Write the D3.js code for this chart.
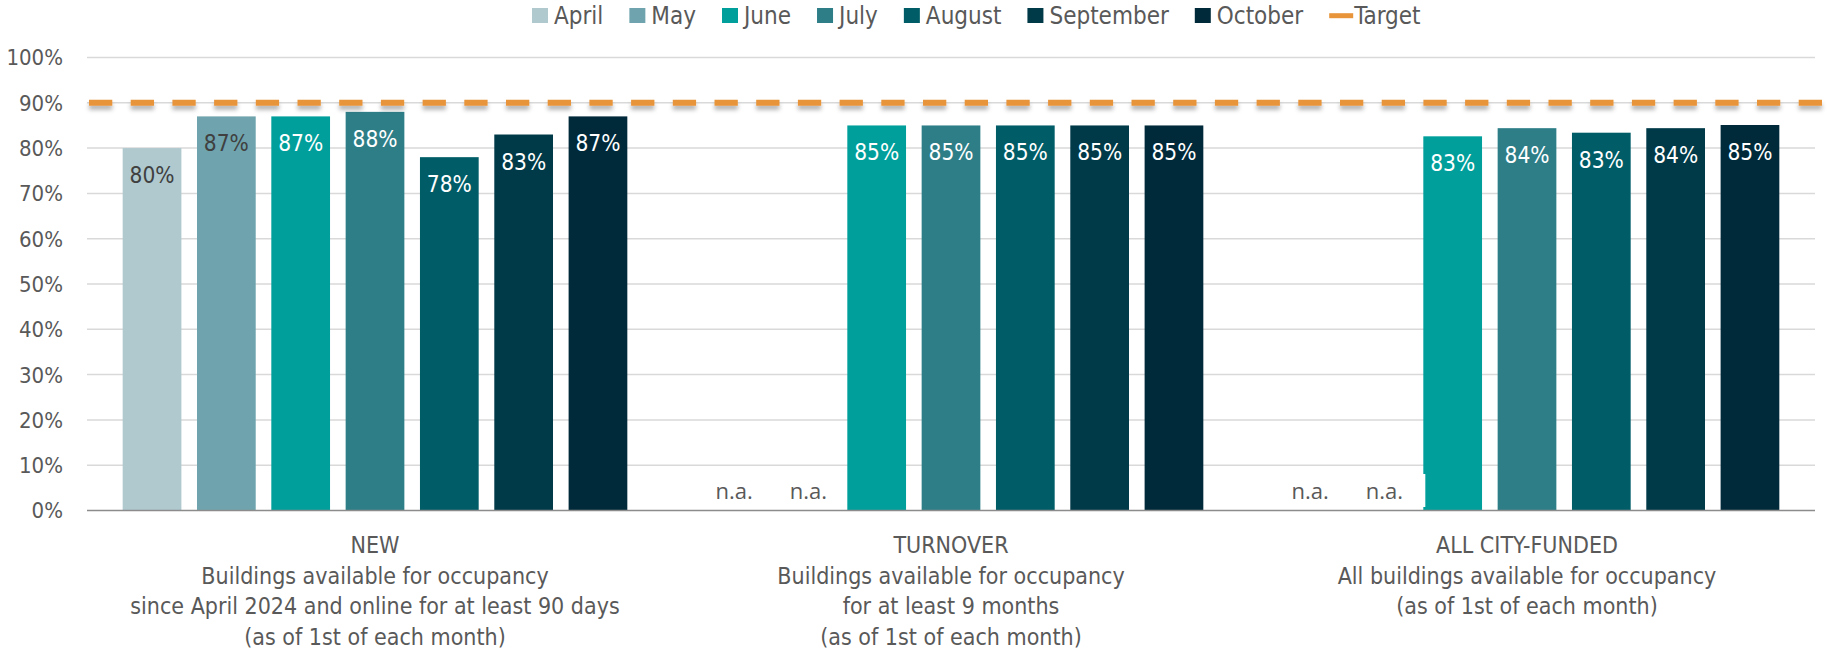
<!DOCTYPE html>
<html lang="en">
<head>
<meta charset="UTF-8">
<title>Occupancy by building group</title>
<script src="https://d3js.org/d3.v7.min.js"></script>
<style>
    body {
        margin: 0;
        background: #ffffff;
    }

    svg {
        display: block;
        font-family: "DejaVu Sans Condensed", "DejaVu Sans", sans-serif;
        font-stretch: condensed;
    }

    .grid line {
        stroke: #d9d9d9;
        stroke-width: 1.5;
    }

    .tick-label {
        fill: #595959;
        font-size: 22px;
    }

    .cat-label {
        fill: #595959;
        font-size: 23px;
    }

    .legend text {
        fill: #595959;
        font-size: 24px;
    }

    .na-label {
        font-family: "Open Sans", sans-serif;
        font-stretch: normal;
        fill: #595959;
        font-size: 22px;
    }
</style>
</head>
<body>
<svg id="chart" width="1837" height="656"></svg>
<script>
    // data
    const months = ["April", "May", "June", "July", "August", "September", "October"];
    const groups = ["NEW", "TURNOVER", "ALL CITY-FUNDED"];
    const groupNotes = [
        ["NEW", "Buildings available for occupancy", "since April 2024 and online for at least 90 days", "(as of 1st of each month)"],
        ["TURNOVER", "Buildings available for occupancy", "for at least 9 months", "(as of 1st of each month)"],
        ["ALL CITY-FUNDED", "All buildings available for occupancy", "(as of 1st of each month)"]
    ];
    const newValues = [80, 87, 87, 88, 78, 83, 87];
    const turnoverValues = [null, null, 85, 85, 85, 85, 85];
    const allFundedValues = [null, null, 82.6, 84.4, 83.4, 84.4, 85.1];
    const yTicks = [0, 10, 20, 30, 40, 50, 60, 70, 80, 90, 100];
    const targetValue = 90;

    const monthColors = ["#afc9cf", "#6fa4ae", "#009f9c", "#2e7e88", "#005d67", "#003a48", "#002a3a"];
    const darkLabelMonths = ["April", "May"];

    const seriesByGroup = [newValues, turnoverValues, allFundedValues];

    const svg = d3.select("#chart");
    const plotLeft = 87, plotRight = 1815;

    const y = d3.scaleLinear().domain([0, 100]).range([510.5, 57.5]);

    const x0 = d3.scaleBand()
        .domain(groups)
        .range([plotLeft, plotRight])
        .padding(0);

    const x1 = d3.scaleBand()
        .domain(months)
        .range([0, x0.bandwidth()])
        .paddingInner(0.21)
        .paddingOuter(0.48);

    const color = d3.scaleOrdinal().domain(months).range(monthColors);

    // shadow under the target line
    svg.append("defs")
        .append("filter")
        .attr("id", "shadow")
        .attr("filterUnits", "userSpaceOnUse")
        .attr("x", 0).attr("y", y(targetValue) - 20)
        .attr("width", 1837).attr("height", 40)
        .append("feDropShadow")
        .attr("dx", 0).attr("dy", 4)
        .attr("stdDeviation", 2)
        .attr("flood-color", "#000")
        .attr("flood-opacity", 0.3);

    // gridlines
    svg.append("g")
        .attr("class", "grid")
        .selectAll("line")
        .data(yTicks.filter(d => d > 0))
        .join("line")
        .attr("x1", plotLeft)
        .attr("x2", plotRight)
        .attr("y1", d => y(d))
        .attr("y2", d => y(d));

    // y tick labels
    svg.append("g")
        .selectAll("text")
        .data(yTicks)
        .join("text")
        .attr("class", "tick-label")
        .attr("x", 63)
        .attr("y", d => y(d))
        .attr("dy", "0.36em")
        .attr("text-anchor", "end")
        .text(d => d + "%");

    // one group per building category
    const groupG = svg.append("g")
        .selectAll("g")
        .data(groups)
        .join("g")
        .attr("transform", d => `translate(${x0(d)},0)`);

    const cellData = (g, gi) => months.map((m, mi) => ({ group: g, month: m, value: seriesByGroup[gi][mi] }));

    // bars
    groupG.selectAll("rect.bar")
        .data((g, gi) => cellData(g, gi).filter(d => d.value !== null))
        .join("rect")
        .attr("class", "bar")
        .attr("x", d => x1(d.month))
        .attr("width", x1.bandwidth())
        .attr("y", d => y(d.value))
        .attr("height", d => y(0) - y(d.value))
        .attr("fill", d => color(d.month));

    // white box behind the n.a. labels of the last group (as in the source)
    groupG.filter(g => g === "ALL CITY-FUNDED")
        .append("rect")
        .attr("x", x1("April") - 12)
        .attr("y", y(0) - 36.5)
        .attr("width", x1("June") + 2 - (x1("April") - 12))
        .attr("height", 33)
        .attr("fill", "#ffffff");

    // value labels
    groupG.selectAll("text.value")
        .data((g, gi) => cellData(g, gi).filter(d => d.value !== null))
        .join("text")
        .attr("class", "value")
        .attr("x", d => x1(d.month) + x1.bandwidth() / 2)
        .attr("y", d => y(d.value) + 35)
        .attr("text-anchor", "middle")
        .attr("font-size", 22.5)
        .attr("fill", d => darkLabelMonths.includes(d.month) ? "#404040" : "#ffffff")
        .text(d => Math.round(d.value) + "%");

    groupG.selectAll("text.na-label")
        .data((g, gi) => cellData(g, gi).filter(d => d.value === null))
        .join("text")
        .attr("class", "na-label")
        .attr("x", d => x1(d.month) + x1.bandwidth() / 2 + 6)
        .attr("y", y(0) - 12)
        .attr("text-anchor", "middle")
        .text("n.a.");

    // axis baseline
    svg.append("line")
        .attr("x1", plotLeft)
        .attr("x2", plotRight)
        .attr("y1", y(0))
        .attr("y2", y(0))
        .attr("stroke", "#8c8c8c")
        .attr("stroke-width", 1.5);

    // target line
    svg.append("line")
        .attr("x1", plotLeft + 2)
        .attr("x2", 1832)
        .attr("y1", y(targetValue))
        .attr("y2", y(targetValue))
        .attr("stroke", "#e8943a")
        .attr("stroke-width", 6)
        .attr("stroke-dasharray", "23.3 18.4")
        .attr("filter", "url(#shadow)");

    // category labels
    svg.append("g")
        .selectAll("text")
        .data(groups)
        .join("text")
        .attr("class", "cat-label")
        .attr("text-anchor", "middle")
        .attr("x", d => x0(d) + x0.bandwidth() / 2)
        .attr("y", 553)
        .selectAll("tspan")
        .data((d, i) => groupNotes[i])
        .join("tspan")
        .attr("x", function () { return d3.select(this.parentNode).attr("x"); })
        .attr("dy", (d, i) => i === 0 ? 0 : 30.7)
        .text(d => d);

    // legend
    const legend = svg.append("g").attr("class", "legend");
    let lx = 532;
    months.forEach(m => {
        legend.append("rect")
            .attr("x", lx).attr("y", 8)
            .attr("width", 16).attr("height", 15)
            .attr("fill", color(m));
        const t = legend.append("text")
            .attr("x", lx + 22).attr("y", 23.5)
            .text(m);
        lx += 22 + t.node().getComputedTextLength() + 26;
    });
    legend.append("line")
        .attr("x1", lx).attr("x2", lx + 24)
        .attr("y1", 15.7).attr("y2", 15.7)
        .attr("stroke", "#e8943a")
        .attr("stroke-width", 5);
    legend.append("text")
        .attr("x", lx + 25).attr("y", 23.5)
        .text("Target");
</script>
</body>
</html>
